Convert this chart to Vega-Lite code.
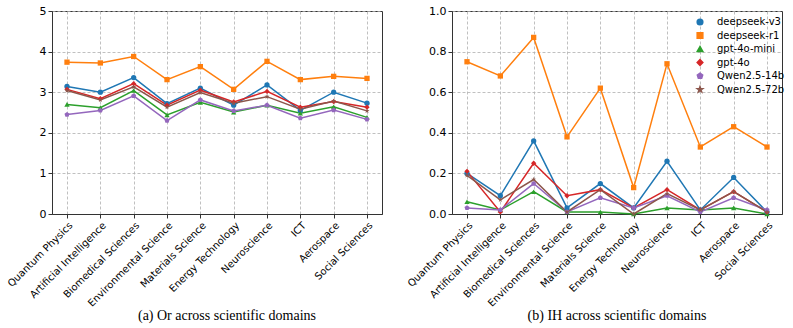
{
  "$schema": "https://vega.github.io/schema/vega-lite/v6.json",
  "padding": {"left": 5, "top": 4, "right": 5, "bottom": 0},
  "background": "white",
  "bounds": "flush",
  "config": {
    "font": "DejaVu Sans",
    "view": {"stroke": "#333", "strokeWidth": 1},
    "axis": {
      "grid": true, "gridDash": [3, 2], "gridColor": "#b0b0b0", "gridWidth": 0.8,
      "domainColor": "#333", "tickColor": "#333", "tickSize": 4,
      "labelFont": "DejaVu Sans", "labelColor": "#000", "title": null
    },
    "legend": {"labelFont": "DejaVu Sans"},
    "title": {"font": "Liberation Serif", "fontSize": 14, "fontWeight": "normal", "color": "#000"}
  },
  "datasets": {
    "vals": [
      {"metric": "Or", "model": "deepseek-v3", "domain": "Quantum Physics", "value": 3.14},
      {"metric": "Or", "model": "deepseek-v3", "domain": "Artificial Intelligence", "value": 3.0},
      {"metric": "Or", "model": "deepseek-v3", "domain": "Biomedical Sciences", "value": 3.36},
      {"metric": "Or", "model": "deepseek-v3", "domain": "Environmental Science", "value": 2.72},
      {"metric": "Or", "model": "deepseek-v3", "domain": "Materials Science", "value": 3.1},
      {"metric": "Or", "model": "deepseek-v3", "domain": "Energy Technology", "value": 2.68},
      {"metric": "Or", "model": "deepseek-v3", "domain": "Neuroscience", "value": 3.18},
      {"metric": "Or", "model": "deepseek-v3", "domain": "ICT", "value": 2.55},
      {"metric": "Or", "model": "deepseek-v3", "domain": "Aerospace", "value": 3.0},
      {"metric": "Or", "model": "deepseek-v3", "domain": "Social Sciences", "value": 2.73},
      {"metric": "Or", "model": "deepseek-r1", "domain": "Quantum Physics", "value": 3.74},
      {"metric": "Or", "model": "deepseek-r1", "domain": "Artificial Intelligence", "value": 3.72},
      {"metric": "Or", "model": "deepseek-r1", "domain": "Biomedical Sciences", "value": 3.88},
      {"metric": "Or", "model": "deepseek-r1", "domain": "Environmental Science", "value": 3.31},
      {"metric": "Or", "model": "deepseek-r1", "domain": "Materials Science", "value": 3.63},
      {"metric": "Or", "model": "deepseek-r1", "domain": "Energy Technology", "value": 3.07},
      {"metric": "Or", "model": "deepseek-r1", "domain": "Neuroscience", "value": 3.76},
      {"metric": "Or", "model": "deepseek-r1", "domain": "ICT", "value": 3.31},
      {"metric": "Or", "model": "deepseek-r1", "domain": "Aerospace", "value": 3.39},
      {"metric": "Or", "model": "deepseek-r1", "domain": "Social Sciences", "value": 3.34},
      {"metric": "Or", "model": "gpt-4o-mini", "domain": "Quantum Physics", "value": 2.7},
      {"metric": "Or", "model": "gpt-4o-mini", "domain": "Artificial Intelligence", "value": 2.62},
      {"metric": "Or", "model": "gpt-4o-mini", "domain": "Biomedical Sciences", "value": 3.04},
      {"metric": "Or", "model": "gpt-4o-mini", "domain": "Environmental Science", "value": 2.44},
      {"metric": "Or", "model": "gpt-4o-mini", "domain": "Materials Science", "value": 2.75},
      {"metric": "Or", "model": "gpt-4o-mini", "domain": "Energy Technology", "value": 2.51},
      {"metric": "Or", "model": "gpt-4o-mini", "domain": "Neuroscience", "value": 2.68},
      {"metric": "Or", "model": "gpt-4o-mini", "domain": "ICT", "value": 2.48},
      {"metric": "Or", "model": "gpt-4o-mini", "domain": "Aerospace", "value": 2.64},
      {"metric": "Or", "model": "gpt-4o-mini", "domain": "Social Sciences", "value": 2.38},
      {"metric": "Or", "model": "gpt-4o", "domain": "Quantum Physics", "value": 3.07},
      {"metric": "Or", "model": "gpt-4o", "domain": "Artificial Intelligence", "value": 2.84},
      {"metric": "Or", "model": "gpt-4o", "domain": "Biomedical Sciences", "value": 3.21},
      {"metric": "Or", "model": "gpt-4o", "domain": "Environmental Science", "value": 2.68},
      {"metric": "Or", "model": "gpt-4o", "domain": "Materials Science", "value": 3.05},
      {"metric": "Or", "model": "gpt-4o", "domain": "Energy Technology", "value": 2.76},
      {"metric": "Or", "model": "gpt-4o", "domain": "Neuroscience", "value": 3.02},
      {"metric": "Or", "model": "gpt-4o", "domain": "ICT", "value": 2.63},
      {"metric": "Or", "model": "gpt-4o", "domain": "Aerospace", "value": 2.77},
      {"metric": "Or", "model": "gpt-4o", "domain": "Social Sciences", "value": 2.63},
      {"metric": "Or", "model": "Qwen2.5-14b", "domain": "Quantum Physics", "value": 2.45},
      {"metric": "Or", "model": "Qwen2.5-14b", "domain": "Artificial Intelligence", "value": 2.55},
      {"metric": "Or", "model": "Qwen2.5-14b", "domain": "Biomedical Sciences", "value": 2.91},
      {"metric": "Or", "model": "Qwen2.5-14b", "domain": "Environmental Science", "value": 2.3},
      {"metric": "Or", "model": "Qwen2.5-14b", "domain": "Materials Science", "value": 2.81},
      {"metric": "Or", "model": "Qwen2.5-14b", "domain": "Energy Technology", "value": 2.54},
      {"metric": "Or", "model": "Qwen2.5-14b", "domain": "Neuroscience", "value": 2.68},
      {"metric": "Or", "model": "Qwen2.5-14b", "domain": "ICT", "value": 2.36},
      {"metric": "Or", "model": "Qwen2.5-14b", "domain": "Aerospace", "value": 2.56},
      {"metric": "Or", "model": "Qwen2.5-14b", "domain": "Social Sciences", "value": 2.33},
      {"metric": "Or", "model": "Qwen2.5-72b", "domain": "Quantum Physics", "value": 3.04},
      {"metric": "Or", "model": "Qwen2.5-72b", "domain": "Artificial Intelligence", "value": 2.81},
      {"metric": "Or", "model": "Qwen2.5-72b", "domain": "Biomedical Sciences", "value": 3.13},
      {"metric": "Or", "model": "Qwen2.5-72b", "domain": "Environmental Science", "value": 2.63},
      {"metric": "Or", "model": "Qwen2.5-72b", "domain": "Materials Science", "value": 2.99},
      {"metric": "Or", "model": "Qwen2.5-72b", "domain": "Energy Technology", "value": 2.73},
      {"metric": "Or", "model": "Qwen2.5-72b", "domain": "Neuroscience", "value": 2.89},
      {"metric": "Or", "model": "Qwen2.5-72b", "domain": "ICT", "value": 2.58},
      {"metric": "Or", "model": "Qwen2.5-72b", "domain": "Aerospace", "value": 2.78},
      {"metric": "Or", "model": "Qwen2.5-72b", "domain": "Social Sciences", "value": 2.54},
      {"metric": "IH", "model": "deepseek-v3", "domain": "Quantum Physics", "value": 0.20},
      {"metric": "IH", "model": "deepseek-v3", "domain": "Artificial Intelligence", "value": 0.09},
      {"metric": "IH", "model": "deepseek-v3", "domain": "Biomedical Sciences", "value": 0.36},
      {"metric": "IH", "model": "deepseek-v3", "domain": "Environmental Science", "value": 0.03},
      {"metric": "IH", "model": "deepseek-v3", "domain": "Materials Science", "value": 0.15},
      {"metric": "IH", "model": "deepseek-v3", "domain": "Energy Technology", "value": 0.03},
      {"metric": "IH", "model": "deepseek-v3", "domain": "Neuroscience", "value": 0.26},
      {"metric": "IH", "model": "deepseek-v3", "domain": "ICT", "value": 0.02},
      {"metric": "IH", "model": "deepseek-v3", "domain": "Aerospace", "value": 0.18},
      {"metric": "IH", "model": "deepseek-v3", "domain": "Social Sciences", "value": 0.01},
      {"metric": "IH", "model": "deepseek-r1", "domain": "Quantum Physics", "value": 0.75},
      {"metric": "IH", "model": "deepseek-r1", "domain": "Artificial Intelligence", "value": 0.68},
      {"metric": "IH", "model": "deepseek-r1", "domain": "Biomedical Sciences", "value": 0.87},
      {"metric": "IH", "model": "deepseek-r1", "domain": "Environmental Science", "value": 0.38},
      {"metric": "IH", "model": "deepseek-r1", "domain": "Materials Science", "value": 0.62},
      {"metric": "IH", "model": "deepseek-r1", "domain": "Energy Technology", "value": 0.13},
      {"metric": "IH", "model": "deepseek-r1", "domain": "Neuroscience", "value": 0.74},
      {"metric": "IH", "model": "deepseek-r1", "domain": "ICT", "value": 0.33},
      {"metric": "IH", "model": "deepseek-r1", "domain": "Aerospace", "value": 0.43},
      {"metric": "IH", "model": "deepseek-r1", "domain": "Social Sciences", "value": 0.33},
      {"metric": "IH", "model": "gpt-4o-mini", "domain": "Quantum Physics", "value": 0.06},
      {"metric": "IH", "model": "gpt-4o-mini", "domain": "Artificial Intelligence", "value": 0.02},
      {"metric": "IH", "model": "gpt-4o-mini", "domain": "Biomedical Sciences", "value": 0.11},
      {"metric": "IH", "model": "gpt-4o-mini", "domain": "Environmental Science", "value": 0.01},
      {"metric": "IH", "model": "gpt-4o-mini", "domain": "Materials Science", "value": 0.01},
      {"metric": "IH", "model": "gpt-4o-mini", "domain": "Energy Technology", "value": 0.0},
      {"metric": "IH", "model": "gpt-4o-mini", "domain": "Neuroscience", "value": 0.03},
      {"metric": "IH", "model": "gpt-4o-mini", "domain": "ICT", "value": 0.02},
      {"metric": "IH", "model": "gpt-4o-mini", "domain": "Aerospace", "value": 0.03},
      {"metric": "IH", "model": "gpt-4o-mini", "domain": "Social Sciences", "value": 0.0},
      {"metric": "IH", "model": "gpt-4o", "domain": "Quantum Physics", "value": 0.21},
      {"metric": "IH", "model": "gpt-4o", "domain": "Artificial Intelligence", "value": 0.01},
      {"metric": "IH", "model": "gpt-4o", "domain": "Biomedical Sciences", "value": 0.25},
      {"metric": "IH", "model": "gpt-4o", "domain": "Environmental Science", "value": 0.09},
      {"metric": "IH", "model": "gpt-4o", "domain": "Materials Science", "value": 0.12},
      {"metric": "IH", "model": "gpt-4o", "domain": "Energy Technology", "value": 0.03},
      {"metric": "IH", "model": "gpt-4o", "domain": "Neuroscience", "value": 0.12},
      {"metric": "IH", "model": "gpt-4o", "domain": "ICT", "value": 0.02},
      {"metric": "IH", "model": "gpt-4o", "domain": "Aerospace", "value": 0.11},
      {"metric": "IH", "model": "gpt-4o", "domain": "Social Sciences", "value": 0.01},
      {"metric": "IH", "model": "Qwen2.5-14b", "domain": "Quantum Physics", "value": 0.03},
      {"metric": "IH", "model": "Qwen2.5-14b", "domain": "Artificial Intelligence", "value": 0.02},
      {"metric": "IH", "model": "Qwen2.5-14b", "domain": "Biomedical Sciences", "value": 0.15},
      {"metric": "IH", "model": "Qwen2.5-14b", "domain": "Environmental Science", "value": 0.01},
      {"metric": "IH", "model": "Qwen2.5-14b", "domain": "Materials Science", "value": 0.08},
      {"metric": "IH", "model": "Qwen2.5-14b", "domain": "Energy Technology", "value": 0.03},
      {"metric": "IH", "model": "Qwen2.5-14b", "domain": "Neuroscience", "value": 0.09},
      {"metric": "IH", "model": "Qwen2.5-14b", "domain": "ICT", "value": 0.01},
      {"metric": "IH", "model": "Qwen2.5-14b", "domain": "Aerospace", "value": 0.08},
      {"metric": "IH", "model": "Qwen2.5-14b", "domain": "Social Sciences", "value": 0.02},
      {"metric": "IH", "model": "Qwen2.5-72b", "domain": "Quantum Physics", "value": 0.19},
      {"metric": "IH", "model": "Qwen2.5-72b", "domain": "Artificial Intelligence", "value": 0.07},
      {"metric": "IH", "model": "Qwen2.5-72b", "domain": "Biomedical Sciences", "value": 0.17},
      {"metric": "IH", "model": "Qwen2.5-72b", "domain": "Environmental Science", "value": 0.01},
      {"metric": "IH", "model": "Qwen2.5-72b", "domain": "Materials Science", "value": 0.12},
      {"metric": "IH", "model": "Qwen2.5-72b", "domain": "Energy Technology", "value": 0.0},
      {"metric": "IH", "model": "Qwen2.5-72b", "domain": "Neuroscience", "value": 0.10},
      {"metric": "IH", "model": "Qwen2.5-72b", "domain": "ICT", "value": 0.02},
      {"metric": "IH", "model": "Qwen2.5-72b", "domain": "Aerospace", "value": 0.11},
      {"metric": "IH", "model": "Qwen2.5-72b", "domain": "Social Sciences", "value": 0.01}
    ]
  },
  "data": {"name": "vals"},
  "spacing": 70,
  "resolve": {"legend": {"color": "independent", "shape": "independent"}},
  "hconcat": [
    {
      "width": 330, "height": 203,
      "title": {"text": "(a) Or across scientific domains", "orient": "bottom", "offset": 1, "dx": 10},
      "transform": [{"filter": "datum.metric === 'Or'"}],
      "encoding": {
        "x": {"field": "domain", "type": "nominal", "scale": {"type": "point", "padding": 0.45},
          "sort": ["Quantum Physics", "Artificial Intelligence", "Biomedical Sciences", "Environmental Science", "Materials Science", "Energy Technology", "Neuroscience", "ICT", "Aerospace", "Social Sciences"],
          "axis": {"labelAngle": -45, "labelFontSize": 10, "labelPadding": 2}},
        "y": {"field": "value", "type": "quantitative", "scale": {"domain": [0, 5], "nice": false},
          "axis": {"values": [0, 1, 2, 3, 4, 5], "labelFontSize": 11}},
        "color": {"field": "model", "type": "nominal", "legend": null,
          "scale": {"domain": ["deepseek-v3", "deepseek-r1", "gpt-4o-mini", "gpt-4o", "Qwen2.5-14b", "Qwen2.5-72b"],
            "range": ["#1f77b4", "#ff7f0e", "#2ca02c", "#d62728", "#9467bd", "#8c564b"]}}
      },
      "layer": [
        {"mark": {"type": "line", "strokeWidth": 1.5}},
        {"mark": {"type": "point", "filled": true, "opacity": 1, "size": 28},
          "encoding": {"shape": {"field": "model", "type": "nominal", "legend": null,
            "scale": {"domain": ["deepseek-v3", "deepseek-r1", "gpt-4o-mini", "gpt-4o", "Qwen2.5-14b", "Qwen2.5-72b"],
              "range": ["circle", "square", "triangle-up", "diamond", "M0,-1L0.951,-0.309L0.588,0.809L-0.588,0.809L-0.951,-0.309Z", "M0,-1L0.235,-0.324L0.951,-0.309L0.38,0.124L0.588,0.809L0,0.4L-0.588,0.809L-0.38,0.124L-0.951,-0.309L-0.235,-0.324Z"]}}}}
      ]
    },
    {
      "width": 330, "height": 203,
      "title": {"text": "(b) IH across scientific domains", "orient": "bottom", "offset": 1},
      "transform": [{"filter": "datum.metric === 'IH'"}],
      "encoding": {
        "x": {"field": "domain", "type": "nominal", "scale": {"type": "point", "padding": 0.45},
          "sort": ["Quantum Physics", "Artificial Intelligence", "Biomedical Sciences", "Environmental Science", "Materials Science", "Energy Technology", "Neuroscience", "ICT", "Aerospace", "Social Sciences"],
          "axis": {"labelAngle": -45, "labelFontSize": 10, "labelPadding": 2}},
        "y": {"field": "value", "type": "quantitative", "scale": {"domain": [0, 1], "nice": false},
          "axis": {"values": [0, 0.2, 0.4, 0.6, 0.8, 1.0], "format": ".1f", "labelFontSize": 11}},
        "color": {"field": "model", "type": "nominal",
          "scale": {"domain": ["deepseek-v3", "deepseek-r1", "gpt-4o-mini", "gpt-4o", "Qwen2.5-14b", "Qwen2.5-72b"],
            "range": ["#1f77b4", "#ff7f0e", "#2ca02c", "#d62728", "#9467bd", "#8c564b"]},
          "legend": {"orient": "none", "legendX": 243, "legendY": 6, "title": null, "labelFontSize": 10, "symbolSize": 32, "rowPadding": 1.5, "labelOffset": 12, "padding": 0}}
      },
      "layer": [
        {"mark": {"type": "line", "strokeWidth": 1.5}},
        {"mark": {"type": "point", "filled": true, "opacity": 1, "size": 28},
          "encoding": {"shape": {"field": "model", "type": "nominal", "legend": null,
            "scale": {"domain": ["deepseek-v3", "deepseek-r1", "gpt-4o-mini", "gpt-4o", "Qwen2.5-14b", "Qwen2.5-72b"],
              "range": ["circle", "square", "triangle-up", "diamond", "M0,-1L0.951,-0.309L0.588,0.809L-0.588,0.809L-0.951,-0.309Z", "M0,-1L0.235,-0.324L0.951,-0.309L0.38,0.124L0.588,0.809L0,0.4L-0.588,0.809L-0.38,0.124L-0.951,-0.309L-0.235,-0.324Z"]}}}}
      ]
    }
  ]
}
